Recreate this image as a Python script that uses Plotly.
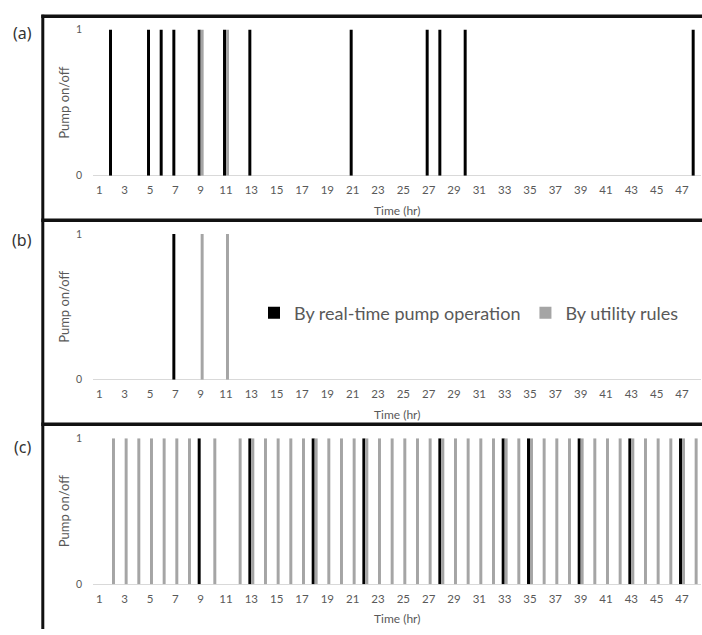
import plotly.graph_objects as go

# ---------------- data ----------------
hours = [1, 2, 3, 4, 5, 6, 7, 8, 9, 10, 11, 12,
         13, 14, 15, 16, 17, 18, 19, 20, 21, 22, 23, 24,
         25, 26, 27, 28, 29, 30, 31, 32, 33, 34, 35, 36,
         37, 38, 39, 40, 41, 42, 43, 44, 45, 46, 47, 48]

x_tick_vals = [1, 3, 5, 7, 9, 11, 13, 15, 17, 19, 21, 23,
               25, 27, 29, 31, 33, 35, 37, 39, 41, 43, 45, 47]
x_tick_text = ["1", "3", "5", "7", "9", "11", "13", "15", "17", "19", "21", "23",
               "25", "27", "29", "31", "33", "35", "37", "39", "41", "43", "45", "47"]

series_names = ["By real-time pump operation", "By utility rules"]
panel_labels = ["(a)", "(b)", "(c)"]

# panel (a)
a_realtime = [0, 1, 0, 0, 1, 1, 1, 0, 1, 0, 1, 0,
              1, 0, 0, 0, 0, 0, 0, 0, 1, 0, 0, 0,
              0, 0, 1, 1, 0, 1, 0, 0, 0, 0, 0, 0,
              0, 0, 0, 0, 0, 0, 0, 0, 0, 0, 0, 1]
a_utility = [0, 0, 0, 0, 0, 0, 0, 0, 1, 0, 1, 0,
             0, 0, 0, 0, 0, 0, 0, 0, 0, 0, 0, 0,
             0, 0, 0, 0, 0, 0, 0, 0, 0, 0, 0, 0,
             0, 0, 0, 0, 0, 0, 0, 0, 0, 0, 0, 0]

# panel (b)
b_realtime = [0, 0, 0, 0, 0, 0, 1, 0, 0, 0, 0, 0,
              0, 0, 0, 0, 0, 0, 0, 0, 0, 0, 0, 0,
              0, 0, 0, 0, 0, 0, 0, 0, 0, 0, 0, 0,
              0, 0, 0, 0, 0, 0, 0, 0, 0, 0, 0, 0]
b_utility = [0, 0, 0, 0, 0, 0, 0, 0, 1, 0, 1, 0,
             0, 0, 0, 0, 0, 0, 0, 0, 0, 0, 0, 0,
             0, 0, 0, 0, 0, 0, 0, 0, 0, 0, 0, 0,
             0, 0, 0, 0, 0, 0, 0, 0, 0, 0, 0, 0]

# panel (c)
c_realtime = [0, 0, 0, 0, 0, 0, 0, 0, 1, 0, 0, 0,
              1, 0, 0, 0, 0, 1, 0, 0, 0, 1, 0, 0,
              0, 0, 0, 1, 0, 0, 0, 0, 1, 0, 1, 0,
              0, 0, 1, 0, 0, 0, 1, 0, 0, 0, 1, 0]
c_utility = [0, 1, 1, 1, 1, 1, 1, 1, 0, 1, 0, 1,
             1, 1, 1, 1, 1, 1, 1, 1, 1, 1, 1, 1,
             1, 1, 1, 1, 1, 1, 1, 1, 1, 1, 1, 1,
             1, 1, 1, 1, 1, 1, 1, 1, 1, 1, 1, 1]

panels = [(a_realtime, a_utility), (b_realtime, b_utility), (c_realtime, c_utility)]

# ---------------- styling ----------------
W, H = 702, 635
BLACK = "#000000"
GRAY = "#a5a5a5"
TXT = "#595959"
GRID = "#d9d9d9"
FONT = "Lato, 'Open Sans', sans-serif"

def px_x(x):
    return x / W

def px_y(y):
    return 1 - y / H

# plot area pixel boxes (top, bottom) for each panel
plot_left, plot_right = 93, 701
panel_tb = [(24, 173), (232.3, 381), (440.7, 589.3)]
panel_label_y = [28, 238.5, 449]

fig = go.Figure()

for i, (rt, ut) in enumerate(panels):
    xa = "x" if i == 0 else f"x{i+1}"
    ya = "y" if i == 0 else f"y{i+1}"
    fig.add_trace(go.Bar(x=hours, y=rt, name=series_names[0], marker=dict(color=BLACK, line=dict(width=0)),
                         xaxis=xa, yaxis=ya, showlegend=(i == 1), legendrank=1, hoverinfo="skip"))
    fig.add_trace(go.Bar(x=hours, y=ut, name=series_names[1], marker=dict(color=GRAY, line=dict(width=0)),
                         xaxis=xa, yaxis=ya, showlegend=(i == 1), legendrank=2, hoverinfo="skip"))

layout = dict(
    width=W, height=H,
    margin=dict(l=0, r=0, t=0, b=0),
    paper_bgcolor="white", plot_bgcolor="white",
    barmode="group", bargap=0.53, bargroupgap=0,
    font=dict(family=FONT, color=TXT),
    showlegend=True,
    legend=dict(orientation="h", x=px_x(254), xanchor="left", y=px_y(313), yanchor="middle",
                font=dict(family=FONT, size=18, color=TXT), bgcolor="rgba(0,0,0,0)",
                traceorder="normal", itemclick=False, itemdoubleclick=False),
)

annotations = []
shapes = []
for i, (top, bot) in enumerate(panel_tb):
    sx = "" if i == 0 else str(i + 1)
    layout[f"xaxis{sx}"] = dict(
        domain=[px_x(plot_left), px_x(plot_right)], anchor=f"y{sx}",
        range=[0.5, 48.5], tickmode="array", tickvals=x_tick_vals, ticktext=x_tick_text,
        showgrid=False, zeroline=False, showline=False, ticks="",
        tickfont=dict(family=FONT, size=11.5, color=TXT), ticklabelstandoff=6, fixedrange=True,
    )
    layout[f"yaxis{sx}"] = dict(
        domain=[px_y(bot), px_y(top)], anchor=f"x{sx}",
        range=[0, 1], tickmode="array", tickvals=[0, 1], ticktext=["0", "1"],
        showgrid=True, gridcolor=GRID, gridwidth=1,
        zeroline=True, zerolinecolor=GRID, zerolinewidth=1, showline=False, ticks="",
        tickfont=dict(family=FONT, size=10.5, color=TXT), ticklabelstandoff=10, fixedrange=True,
    )
    # axis titles
    annotations.append(dict(text="Pump on/off", x=px_x(64), y=px_y((top + bot) / 2), xref="paper", yref="paper",
                            xanchor="center", yanchor="middle", textangle=-90, showarrow=False,
                            font=dict(family=FONT, size=13, color=TXT)))
    annotations.append(dict(text="Time (hr)", x=px_x((plot_left + plot_right) / 2), y=px_y(bot + 35.5),
                            xref="paper", yref="paper", xanchor="center", yanchor="middle", showarrow=False,
                            font=dict(family=FONT, size=12, color=TXT)))
    annotations.append(dict(text=panel_labels[i], x=px_x(22), y=px_y(panel_label_y[i]), xref="paper", yref="paper",
                            xanchor="center", yanchor="middle", showarrow=False,
                            font=dict(family="'Noto Sans', sans-serif", size=16, color="#333333")))

# frame lines (figure borders between stacked panels)
for yy in [10.5, 218.5, 426.3]:
    shapes.append(dict(type="line", xref="paper", yref="paper", x0=px_x(41.3), x1=1.0,
                       y0=px_y(yy), y1=px_y(yy), line=dict(color="#111111", width=3.5)))
shapes.append(dict(type="line", xref="paper", yref="paper", x0=px_x(42.8), x1=px_x(42.8),
                   y0=px_y(9), y1=0, line=dict(color="#111111", width=3)))

layout["annotations"] = annotations
layout["shapes"] = shapes
fig.update_layout(**layout)

fig.write_html("out.html", include_plotlyjs=True,
               config={"displayModeBar": False, "staticPlot": True},
               post_script="document.body.style.margin='0';document.body.style.overflow='hidden';")
